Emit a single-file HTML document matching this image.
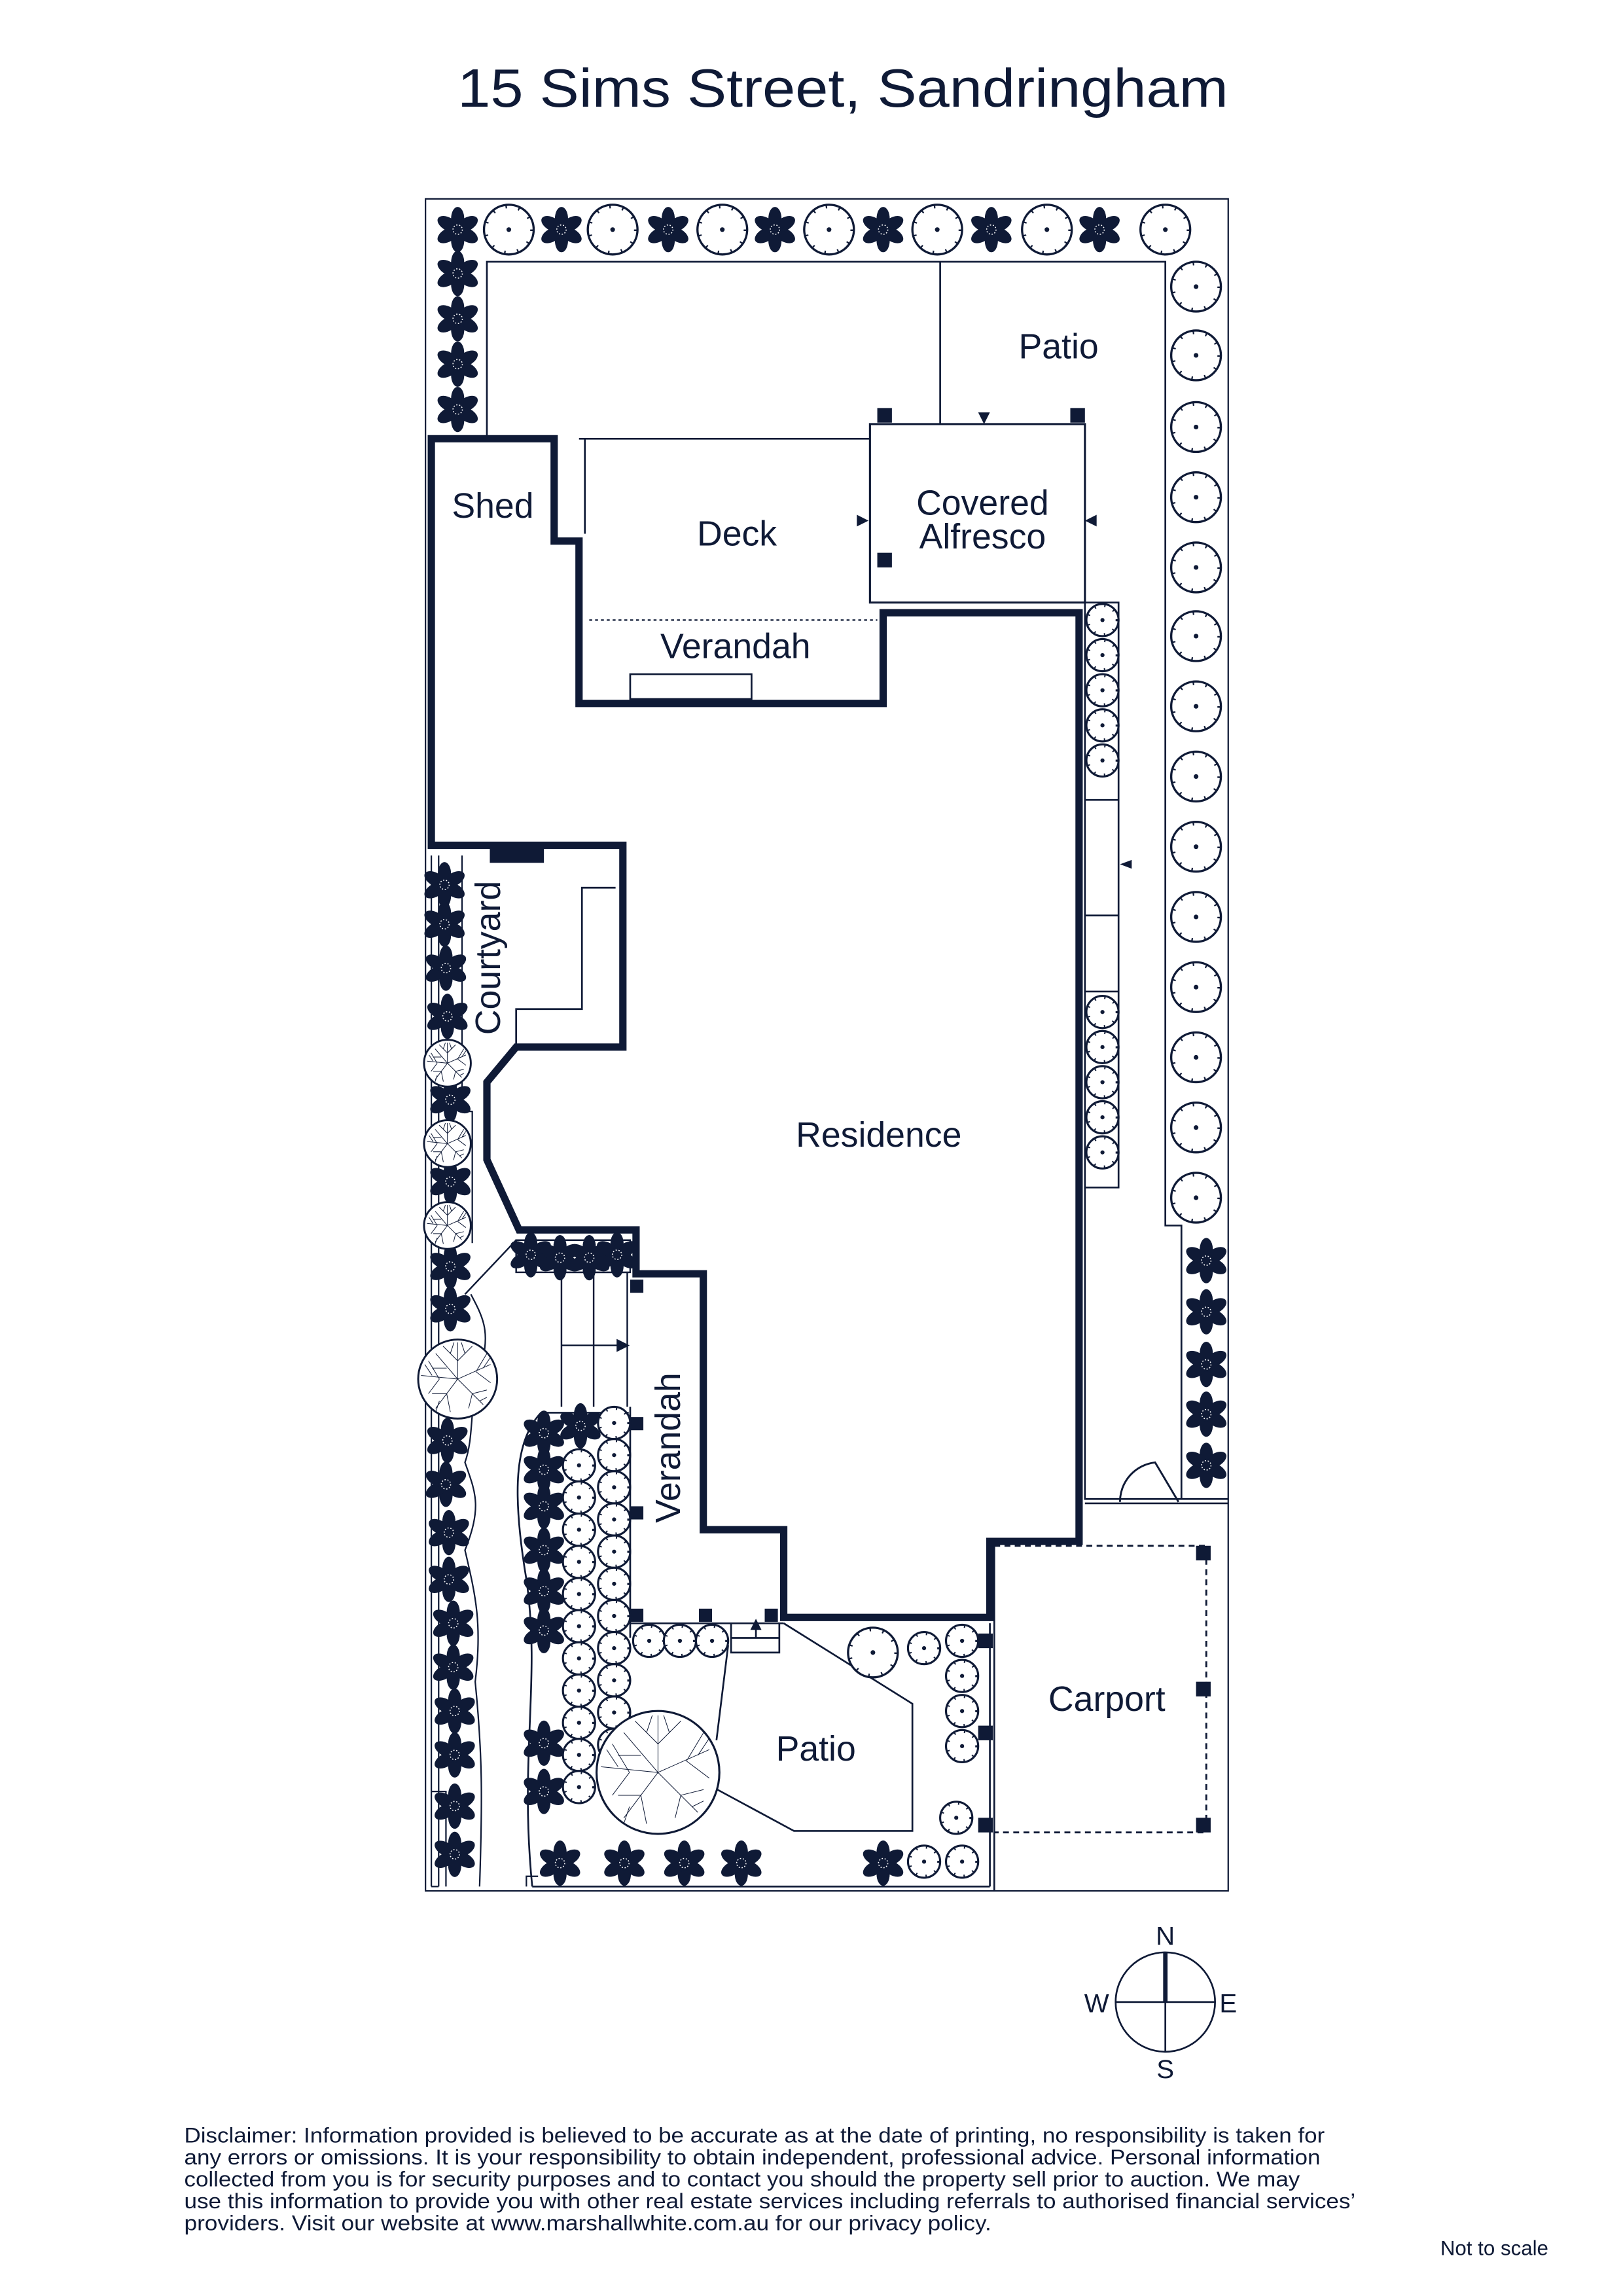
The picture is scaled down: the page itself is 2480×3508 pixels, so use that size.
<!DOCTYPE html>
<html><head><meta charset="utf-8"><style>
html,body{margin:0;padding:0;background:#fff}
svg{display:block}
text{font-family:"Liberation Sans",sans-serif;fill:#0f1a36}
</style></head><body>
<svg width="2480" height="3508" viewBox="0 0 1110 1570" preserveAspectRatio="none" xmlns="http://www.w3.org/2000/svg">
<defs>
<g id="f">
<g fill="#0f1a36">
<ellipse cx="0" cy="-7.5" rx="4.5" ry="8"/>
<ellipse cx="0" cy="-7.5" rx="4.5" ry="8" transform="rotate(60)"/>
<ellipse cx="0" cy="-7.5" rx="4.5" ry="8" transform="rotate(120)"/>
<ellipse cx="0" cy="-7.5" rx="4.5" ry="8" transform="rotate(180)"/>
<ellipse cx="0" cy="-7.5" rx="4.5" ry="8" transform="rotate(240)"/>
<ellipse cx="0" cy="-7.5" rx="4.5" ry="8" transform="rotate(300)"/>
<circle r="5"/>
</g>
<circle r="3.2" fill="none" stroke="#fff" stroke-width="0.7" stroke-dasharray="0.8 1.2"/>
</g>
<g id="c">
<circle r="17" fill="#fff" stroke="#0f1a36" stroke-width="1.5"/>
<circle r="15.8" fill="none" stroke="#0f1a36" stroke-width="2.4" stroke-dasharray="1 8"/>
<circle r="1.6" fill="#0f1a36"/>
</g>
<g id="cs">
<circle r="11" fill="#fff" stroke="#0f1a36" stroke-width="1.4"/>
<circle r="10" fill="none" stroke="#0f1a36" stroke-width="2" stroke-dasharray="0.9 6"/>
<circle r="1.4" fill="#0f1a36"/>
</g>
<g id="t" stroke="#0f1a36" fill="none" stroke-width="1" vector-effect="non-scaling-stroke">
<path vector-effect="non-scaling-stroke" d="M0 0 L0 -10 M0 -5 L-4 -9 M0 -5 L4 -9 M-2 -7 L-1 -10 M2 -7 L1 -10 M0 0 L9 -4 M5 -2 L8 -7 M5 -2 L9 1 M7 -3 L9 -6 M0 0 L7 7 M4 4 L8 3 M4 4 L3 8 M6 6 L8 5 M0 0 L-6 8 M-3 4 L-7 4 M-3 4 L-2 9 M-5 6 L-6 9 M0 0 L-10 -1 M-5 0 L-8 -5 M-5 0 L-8 4 M-7 -1 L-9 -4 M0 0 L-6 -7 M-3 -3 L-7 -3"/>
</g>
</defs>
<g stroke="#0f1a36" fill="none">
<rect x="291" y="136" width="549" height="1157" stroke-width="1"/>
<path d="M333 300 V179 H797 V838 H808 V1025" stroke-width="1.2"/>
<path d="M643 179 V290" stroke-width="1.2"/>
<path d="M396 300 H595 M400 300 V365" stroke-width="1.2"/>
<path d="M403 424 H600" stroke-width="1" stroke-dasharray="2 2"/>
<rect x="431" y="461" width="83" height="17" stroke-width="1.2"/>
<rect x="595" y="290" width="147" height="122" stroke-width="1.4"/>
<rect x="742" y="412" width="23" height="400" stroke-width="1.2"/>
<path d="M742 547 H765 M742 626 H765 M742 678 H765" stroke-width="1.2"/>
<path d="M742 812 V1025 H840 M742 1028 H840" stroke-width="1.2"/>
<path d="M766 1027 A27 27 0 0 1 790 1000 L806 1027" stroke-width="1.3"/>
<path d="M680 1054 V1293 M677 1110 V1290" stroke-width="1.2"/>
<path d="M680 1057 H825 V1253 H680" stroke-width="1.3" stroke-dasharray="4 3"/>
<path d="M353 716 V690 H398 V607 H421" stroke-width="1.2"/>
<path d="M295 585 V1290 M300 585 V1290 M295 1290 H300" stroke-width="1"/>
<path d="M316 585 V760 M316 760 L323 760 V850" stroke-width="1"/>
<path d="M353 848 L386 870 H430 M353 848 L318 885" stroke-width="1.1"/>
<path d="M384 870 V962 M406 870 V962 M429 870 V962 M384 920 H428" stroke-width="1.1"/>
<path d="M422 916 L430 920 L422 924 Z" fill="#0f1a36" stroke-width="0.6"/>
<path d="M364 1290 C355 1200 370 1150 360 1080 C350 1020 352 985 370 966 H430" stroke-width="1.2"/>
<path d="M322 885 C330 900 335 910 330 930 C320 960 325 980 318 1000 C325 1020 330 1030 318 1060 C325 1090 330 1110 325 1150 C330 1200 330 1230 328 1290" stroke-width="1"/>
<path d="M295 1225 H305 V1290 M360 1290 V1283 H368" stroke-width="1"/>
<path d="M431 962 V1110 H536 M431 1110 V1120 M500 1110 V1130 H533 V1110 M500 1120 H533" stroke-width="1.2"/>
<path d="M517 1120 V1110" stroke-width="1.2"/>
<path d="M514 1114 L517 1108 L520 1114 Z" fill="#0f1a36"/>
<path d="M536 1110 L624 1165 V1252 H543 L480 1218 M498 1125 L490 1190" stroke-width="1.2"/>
<path d="M364 1290 H677" stroke-width="1.2"/>
<path d="M295 300 H379 V370 H396 V481 H604 V419 H738 V1054 H677 V1106 H536 V1046 H481 V871 H435 V841 H355 L333 793 V740 L353 716 H426 V578 H295 Z" stroke-width="5" stroke-linejoin="miter"/>
</g>
<g fill="#0f1a36">
<rect x="335" y="578" width="37" height="12"/>
<rect x="600" y="279" width="10" height="10"/><rect x="732" y="279" width="10" height="10"/><rect x="600" y="378" width="10" height="10"/>
<rect x="818" y="1057" width="10" height="10"/><rect x="818" y="1150" width="10" height="10"/><rect x="818" y="1243" width="10" height="10"/>
<rect x="669" y="1117" width="10" height="10"/><rect x="669" y="1180" width="10" height="10"/><rect x="669" y="1243" width="10" height="10"/>
<rect x="431" y="875" width="9" height="9"/><rect x="431" y="969" width="9" height="9"/><rect x="431" y="1030" width="9" height="9"/><rect x="431" y="1100" width="9" height="9"/><rect x="478" y="1100" width="9" height="9"/><rect x="523" y="1100" width="9" height="9"/>
<path d="M586 352 L594 356 L586 360 Z M750 352 L742 356 L750 360 Z M669 282 L673 290 L677 282 Z M774 588 L766 591 L774 594 Z"/>
</g>
<use href="#f" x="313" y="157"/><use href="#c" x="348" y="157"/>
<use href="#f" x="384" y="157"/><use href="#c" x="419" y="157"/>
<use href="#f" x="457" y="157"/><use href="#c" x="494" y="157"/>
<use href="#f" x="530" y="157"/><use href="#c" x="567" y="157"/>
<use href="#f" x="604" y="157"/><use href="#c" x="641" y="157"/>
<use href="#f" x="678" y="157"/><use href="#c" x="716" y="157"/>
<use href="#f" x="752" y="157"/><use href="#c" x="797" y="157"/>
<use href="#f" x="313" y="187"/><use href="#f" x="313" y="218"/><use href="#f" x="313" y="249"/><use href="#f" x="313" y="280"/>
<use href="#c" x="818" y="196"/><use href="#c" x="818" y="243"/><use href="#c" x="818" y="292"/><use href="#c" x="818" y="340"/><use href="#c" x="818" y="388"/><use href="#c" x="818" y="435"/><use href="#c" x="818" y="483"/><use href="#c" x="818" y="531"/><use href="#c" x="818" y="579"/><use href="#c" x="818" y="627"/><use href="#c" x="818" y="675"/><use href="#c" x="818" y="723"/><use href="#c" x="818" y="771"/><use href="#c" x="818" y="819"/>
<use href="#f" x="825" y="862"/><use href="#f" x="825" y="897"/><use href="#f" x="825" y="933"/><use href="#f" x="825" y="967"/><use href="#f" x="825" y="1002"/>
<use href="#cs" x="754" y="424"/><use href="#cs" x="754" y="448"/><use href="#cs" x="754" y="472"/><use href="#cs" x="754" y="496"/><use href="#cs" x="754" y="520"/>
<use href="#cs" x="754" y="692"/><use href="#cs" x="754" y="716"/><use href="#cs" x="754" y="740"/><use href="#cs" x="754" y="764"/><use href="#cs" x="754" y="788"/>
<use href="#f" x="304" y="605"/><use href="#f" x="304" y="632"/><use href="#f" x="305" y="662"/><use href="#f" x="306" y="695"/>
<use href="#f" x="308" y="752"/><use href="#f" x="308" y="808"/><use href="#f" x="308" y="866"/><use href="#f" x="308" y="895"/>
<use href="#f" x="306" y="985"/><use href="#f" x="305" y="1015"/><use href="#f" x="307" y="1048"/><use href="#f" x="307" y="1080"/><use href="#f" x="310" y="1110"/><use href="#f" x="310" y="1140"/><use href="#f" x="311" y="1170"/><use href="#f" x="311" y="1200"/><use href="#f" x="311" y="1235"/><use href="#f" x="311" y="1268"/>
<g><circle cx="306" cy="727" r="16" fill="#fff" stroke="#0f1a36" stroke-width="1.3"/><use href="#t" transform="translate(306 727) scale(1.4)"/></g>
<g><circle cx="306" cy="782" r="16" fill="#fff" stroke="#0f1a36" stroke-width="1.3"/><use href="#t" transform="translate(306 782) scale(1.4)"/></g>
<g><circle cx="306" cy="838" r="16" fill="#fff" stroke="#0f1a36" stroke-width="1.3"/><use href="#t" transform="translate(306 838) scale(1.4)"/></g>
<g><circle cx="313" cy="943" r="27" fill="#fff" stroke="#0f1a36" stroke-width="1.3"/><use href="#t" transform="translate(313 943) scale(2.5)"/></g>
<rect x="353" y="848" width="78" height="22" fill="#fff" stroke="#0f1a36" stroke-width="1.1"/>
<use href="#f" x="363" y="858"/><use href="#f" x="383" y="860"/><use href="#f" x="403" y="860"/><use href="#f" x="422" y="858"/>
<use href="#f" x="372" y="980"/><use href="#f" x="372" y="1005"/><use href="#f" x="372" y="1030"/><use href="#f" x="372" y="1060"/><use href="#f" x="372" y="1088"/><use href="#f" x="372" y="1115"/><use href="#f" x="372" y="1192"/><use href="#f" x="372" y="1225"/>
<use href="#f" x="397" y="975"/>
<use href="#cs" x="396" y="1002"/><use href="#cs" x="396" y="1024"/><use href="#cs" x="396" y="1046"/><use href="#cs" x="396" y="1068"/><use href="#cs" x="396" y="1090"/><use href="#cs" x="396" y="1112"/><use href="#cs" x="396" y="1134"/><use href="#cs" x="396" y="1156"/><use href="#cs" x="396" y="1178"/><use href="#cs" x="396" y="1200"/><use href="#cs" x="396" y="1222"/>
<use href="#cs" x="420" y="973"/><use href="#cs" x="420" y="995"/><use href="#cs" x="420" y="1017"/><use href="#cs" x="420" y="1039"/><use href="#cs" x="420" y="1061"/><use href="#cs" x="420" y="1083"/><use href="#cs" x="420" y="1105"/><use href="#cs" x="420" y="1127"/><use href="#cs" x="420" y="1149"/><use href="#cs" x="420" y="1171"/><use href="#cs" x="420" y="1193"/>
<use href="#cs" x="444" y="1122"/><use href="#cs" x="465" y="1122"/><use href="#cs" x="487" y="1122"/>
<g><circle cx="450" cy="1212" r="42" fill="#fff" stroke="#0f1a36" stroke-width="1.4"/><use href="#t" transform="translate(450 1212) scale(3.9)"/></g>
<use href="#c" x="597" y="1130"/><use href="#cs" x="632" y="1127"/><use href="#cs" x="658" y="1122"/><use href="#cs" x="658" y="1146"/><use href="#cs" x="658" y="1170"/><use href="#cs" x="658" y="1194"/><use href="#cs" x="654" y="1243"/>
<use href="#f" x="383" y="1274"/><use href="#f" x="427" y="1274"/><use href="#f" x="468" y="1274"/><use href="#f" x="507" y="1274"/><use href="#f" x="604" y="1274"/>
<use href="#cs" x="632" y="1273"/><use href="#cs" x="658" y="1273"/>
<text x="313" y="73" font-size="37" textLength="527" lengthAdjust="spacingAndGlyphs">15 Sims Street, Sandringham</text>
<text x="724" y="245" font-size="24" text-anchor="middle">Patio</text>
<text x="337" y="354" font-size="24" text-anchor="middle">Shed</text>
<text x="504" y="373" font-size="24" text-anchor="middle">Deck</text>
<text x="672" y="352" font-size="24" text-anchor="middle">Covered</text>
<text x="672" y="375" font-size="24" text-anchor="middle">Alfresco</text>
<text x="503" y="450" font-size="24" text-anchor="middle">Verandah</text>
<text x="601" y="784" font-size="24" text-anchor="middle">Residence</text>
<text transform="translate(342 655) rotate(-90)" font-size="24" text-anchor="middle">Courtyard</text>
<text transform="translate(465 990) rotate(-90)" font-size="24" text-anchor="middle">Verandah</text>
<text x="558" y="1204" font-size="24" text-anchor="middle">Patio</text>
<text x="757" y="1170" font-size="24" text-anchor="middle">Carport</text>
<g stroke="#0f1a36" fill="none">
<circle cx="797" cy="1369" r="34" stroke-width="1.2"/>
<path d="M763 1369 H831 M797 1369 V1403" stroke-width="1.2"/>
<path d="M797 1335 V1369" stroke-width="3"/>
</g>
<text x="797" y="1330" font-size="18" text-anchor="middle">N</text>
<text x="797" y="1421" font-size="18" text-anchor="middle">S</text>
<text x="750" y="1376" font-size="18" text-anchor="middle">W</text>
<text x="840" y="1376" font-size="18" text-anchor="middle">E</text>
<g font-size="14.5">
<text x="126" y="1465" textLength="780" lengthAdjust="spacingAndGlyphs">Disclaimer: Information provided is believed to be accurate as at the date of printing, no responsibility is taken for</text>
<text x="126" y="1480" textLength="777" lengthAdjust="spacingAndGlyphs">any errors or omissions. It is your responsibility to obtain independent, professional advice. Personal information</text>
<text x="126" y="1495" textLength="763" lengthAdjust="spacingAndGlyphs">collected from you is for security purposes and to contact you should the property sell prior to auction. We may</text>
<text x="126" y="1510" textLength="801" lengthAdjust="spacingAndGlyphs">use this information to provide you with other real estate services including referrals to authorised financial services’</text>
<text x="126" y="1525" textLength="552" lengthAdjust="spacingAndGlyphs">providers. Visit our website at www.marshallwhite.com.au for our privacy policy.</text>
</g>
<text x="1022" y="1542" font-size="14" text-anchor="middle">Not to scale</text>
</svg>
</body></html>
